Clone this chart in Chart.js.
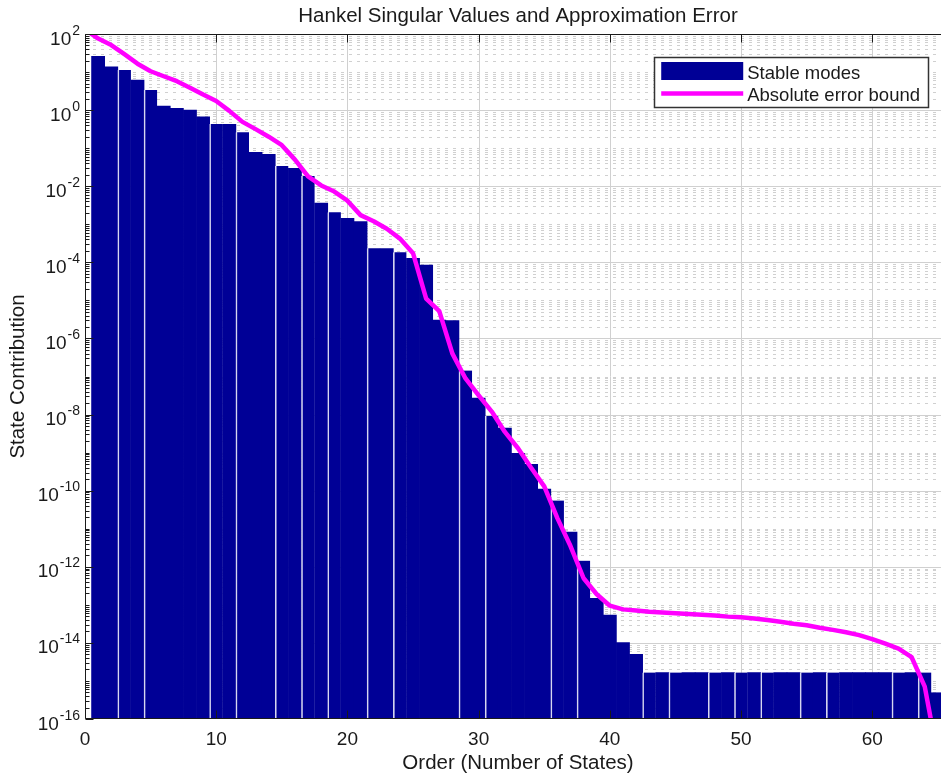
<!DOCTYPE html>
<html>
<head>
<meta charset="utf-8">
<script src="https://cdn.jsdelivr.net/npm/chart.js@4.4.1/dist/chart.umd.min.js"></script>
<style>
  html, body { margin: 0; padding: 0; overflow: hidden; background: #ffffff; }
  canvas { display: block; }
</style>
</head>
<body>
<canvas id="hsv" width="970" height="776"></canvas>
<script>
// Model order of each state (bar positions)
const states = [
  1, 2, 3, 4, 5, 6, 7, 8, 9, 10,
  11, 12, 13, 14, 15, 16, 17, 18, 19, 20,
  21, 22, 23, 24, 25, 26, 27, 28, 29, 30,
  31, 32, 33, 34, 35, 36, 37, 38, 39, 40,
  41, 42, 43, 44, 45, 46, 47, 48, 49, 50,
  51, 52, 53, 54, 55, 56, 57, 58, 59, 60,
  61, 62, 63, 64, 65
];

// Hankel singular value of each stable mode
const hankelSV = [
  26, 13.8, 11.3, 6.2, 3.4, 1.28, 1.11, 1.0, 0.67, 0.43,
  0.42, 0.26, 0.078, 0.069, 0.034, 0.0296, 0.0186, 3.6e-3, 2.06e-3, 1.44e-3,
  1.17e-3, 2.34e-4, 2.3e-4, 1.84e-4, 1.28e-4, 8.5e-5, 3.06e-6, 2.95e-6, 1.43e-7, 2.7e-8,
  9.2e-9, 4.4e-9, 9.6e-10, 4.9e-10, 1.1e-10, 5.5e-11, 8.1e-12, 1.45e-12, 1.49e-13, 5.4e-14,
  1.02e-14, 5.0e-15, 1.66e-15, 1.66e-15, 1.66e-15, 1.66e-15, 1.66e-15, 1.66e-15, 1.66e-15, 1.66e-15,
  1.66e-15, 1.66e-15, 1.66e-15, 1.66e-15, 1.66e-15, 1.66e-15, 1.66e-15, 1.66e-15, 1.66e-15, 1.66e-15,
  1.66e-15, 1.66e-15, 1.66e-15, 1.66e-15, 4.9e-16
];

// Reduced order at which the error bound is evaluated
const boundOrders = [
  0, 1, 2, 3, 4, 5, 6, 7, 8, 9,
  10, 11, 12, 13, 14, 15, 16, 17, 18, 19,
  20, 21, 22, 23, 24, 25, 26, 27, 28, 29,
  30, 31, 32, 33, 34, 35, 36, 37, 38, 39,
  40, 41, 42, 43, 44, 45, 46, 47, 48, 49,
  50, 51, 52, 53, 54, 55, 56, 57, 58, 59,
  60, 61, 62, 63, 64, 65
];

// Absolute approximation error bound at each reduced order
const errorBound = [
  132, 76, 51.3, 29.5, 16.6, 10.5, 7.76, 5.75, 3.89, 2.57,
  1.74, 0.955, 0.49, 0.316, 0.20, 0.12, 0.050, 0.0182, 0.0105, 7.24e-3,
  4.17e-3, 1.74e-3, 1.2e-3, 7.6e-4, 4.2e-4, 1.74e-4, 1.12e-5, 5.2e-6, 4.0e-7, 8.9e-8,
  3.2e-8, 1.2e-8, 3.5e-9, 1.3e-9, 4.0e-10, 1.3e-10, 1.9e-11, 3.5e-12, 5.0e-13, 1.9e-13,
  9.5e-14, 7.6e-14, 7.1e-14, 6.6e-14, 6.3e-14, 6.0e-14, 5.75e-14, 5.5e-14, 5.25e-14, 4.9e-14,
  4.7e-14, 4.4e-14, 4.0e-14, 3.6e-14, 3.2e-14, 2.9e-14, 2.5e-14, 2.2e-14, 1.9e-14, 1.6e-14,
  1.26e-14, 9.5e-15, 7.1e-15, 4.2e-15, 7.1e-16, 1e-17
];

// Axis ticks
const xTickValues = [0, 10, 20, 30, 40, 50, 60];
const yTickExponents = [2, 0, -2, -4, -6, -8, -10, -12, -14, -16];

// Bars whose left edge shows a thin light seam in the rendering
const seamBefore = [3, 5, 10, 12, 15, 17, 19, 22, 24, 29, 31, 36, 38, 43, 45, 48, 50, 52, 55, 57, 62, 64];

const FONT = '"Liberation Sans", Arial, Helvetica, sans-serif';
const TEXT = '#1a1a1a';
const BAR_COLOR = '#000096';
const LINE_COLOR = '#ff00ff';
const Y_MIN = 1e-16, Y_MAX = 1e2;

// MATLAB-style box, log grid, ticks, superscript labels and legend
const matlabAxes = {
  id: 'matlabAxes',
  beforeDatasetsDraw(chart) {
    const { ctx, chartArea: a, scales: { x, y } } = chart;
    const eMin = Math.round(Math.log10(Y_MIN)), eMax = Math.round(Math.log10(Y_MAX));
    const majors = new Set(yTickExponents);
    ctx.save();
    ctx.beginPath();
    ctx.rect(a.left, a.top, a.right - a.left, a.bottom - a.top);
    ctx.clip();
    ctx.lineWidth = 1;
    ctx.strokeStyle = '#d0d0d0';
    // dotted minor grid
    ctx.setLineDash([3, 5]);
    for (let e = eMin; e <= eMax; e++) {
      for (let m = 1; m <= 9; m++) {
        const v = m * Math.pow(10, e);
        if (v > Y_MAX * 1.0001) continue;
        if (m === 1 && majors.has(e)) continue;
        const py = Math.round(y.getPixelForValue(v)) + 0.5;
        ctx.beginPath(); ctx.moveTo(a.left, py); ctx.lineTo(a.right, py); ctx.stroke();
      }
    }
    // solid major grid
    ctx.setLineDash([]);
    yTickExponents.forEach(e => {
      const py = Math.round(y.getPixelForValue(Math.pow(10, e))) + 0.5;
      ctx.beginPath(); ctx.moveTo(a.left, py); ctx.lineTo(a.right, py); ctx.stroke();
    });
    xTickValues.forEach(v => {
      const px = Math.round(x.getPixelForValue(v)) + 0.5;
      ctx.beginPath(); ctx.moveTo(px, a.top); ctx.lineTo(px, a.bottom); ctx.stroke();
    });
    ctx.restore();
  },
  afterDatasetsDraw(chart) {
    const { ctx, chartArea: a, scales: { x, y } } = chart;
    const eMin = Math.round(Math.log10(Y_MIN)), eMax = Math.round(Math.log10(Y_MAX));
    const majors = new Set(yTickExponents);
    ctx.save();
    ctx.strokeStyle = TEXT;
    ctx.lineWidth = 1;
    const L = Math.round(a.left) + 0.5, T = Math.round(a.top) + 0.5, B = Math.round(a.bottom) - 0.5;
    // box edges
    ctx.beginPath();
    ctx.moveTo(a.right, T); ctx.lineTo(L, T); ctx.lineTo(L, B); ctx.lineTo(a.right, B);
    ctx.stroke();
    // y ticks (inward)
    for (let e = eMin; e <= eMax; e++) {
      for (let m = 1; m <= 9; m++) {
        const v = m * Math.pow(10, e);
        if (v > Y_MAX * 1.0001) continue;
        const py = Math.round(y.getPixelForValue(v)) + 0.5;
        const len = (m === 1 && majors.has(e)) ? 8 : 4;
        ctx.beginPath(); ctx.moveTo(L, py); ctx.lineTo(L + len, py); ctx.stroke();
      }
    }
    // x ticks on bottom and top edges (inward)
    xTickValues.forEach(v => {
      const px = Math.round(x.getPixelForValue(v)) + 0.5;
      ctx.beginPath();
      ctx.moveTo(px, B); ctx.lineTo(px, B - 8);
      ctx.moveTo(px, T); ctx.lineTo(px, T + 8);
      ctx.stroke();
    });
    // y tick labels: 10 with superscript exponent
    ctx.fillStyle = TEXT;
    ctx.textAlign = 'right';
    ctx.textBaseline = 'alphabetic';
    const labelRight = a.left - 5;
    yTickExponents.forEach(e => {
      const py = y.getPixelForValue(Math.pow(10, e));
      const exp = String(e);
      ctx.font = '14px ' + FONT;
      const ew = ctx.measureText(exp).width;
      ctx.fillText(exp, labelRight, py + 0.5);
      ctx.font = '19px ' + FONT;
      ctx.fillText('10', labelRight - ew - 1, py + 10.5);
    });
    // legend box in the upper right of the axes
    const items = chart.data.datasets.map(ds => ({ label: ds.label, type: ds.type, color: ds.type === 'line' ? ds.borderColor : ds.backgroundColor }));
    ctx.font = '18.5px ' + FONT;
    const textW = Math.max(...items.map(it => ctx.measureText(it.label).width));
    const sampleW = 82, padL = 7, gap = 4, padR = 8, rowH = 22.5;
    const boxW = padL + sampleW + gap + textW + padR;
    const boxH = 50;
    const boxR = a.right - 23, boxT = a.top + 23;
    const boxL = boxR - boxW;
    ctx.fillStyle = '#ffffff';
    ctx.fillRect(boxL, boxT, boxW, boxH);
    ctx.lineWidth = 1.5;
    ctx.strokeStyle = '#333333';
    ctx.strokeRect(Math.round(boxL) + 0.5, Math.round(boxT) + 0.5, Math.round(boxW), boxH);
    items.forEach((it, i) => {
      const cy = boxT + 14 + i * rowH;
      const sx = boxL + padL;
      if (it.type === 'line') {
        ctx.strokeStyle = it.color;
        ctx.lineWidth = 4.5;
        ctx.beginPath(); ctx.moveTo(sx, cy); ctx.lineTo(sx + sampleW, cy); ctx.stroke();
      } else {
        ctx.fillStyle = it.color;
        ctx.fillRect(sx, cy - 9, sampleW, 18);
      }
      ctx.fillStyle = TEXT;
      ctx.textAlign = 'left';
      ctx.textBaseline = 'alphabetic';
      ctx.fillText(it.label, sx + sampleW + gap, cy + 7.5);
    });
    ctx.restore();
  }
};

new Chart(document.getElementById('hsv'), {
  type: 'bar',
  data: {
    datasets: [
      {
        type: 'bar',
        label: 'Stable modes',
        data: states.map((k, i) => ({ x: k, y: hankelSV[i] })),
        backgroundColor: BAR_COLOR,
        borderColor: '#d6d6f0',
        borderWidth: c => seamBefore.includes(states[c.dataIndex]) ? { left: 1.6, top: 0, right: 0, bottom: 0 } : 0,
        borderSkipped: 'start',
        barPercentage: 1,
        categoryPercentage: 1,
        order: 2
      },
      {
        type: 'line',
        label: 'Absolute error bound',
        data: boundOrders.map((k, i) => ({ x: k, y: errorBound[i] })),
        borderColor: LINE_COLOR,
        backgroundColor: LINE_COLOR,
        borderWidth: 4.5,
        borderJoinStyle: 'round',
        borderCapStyle: 'round',
        pointRadius: 0,
        tension: 0,
        fill: false,
        order: 1
      }
    ]
  },
  options: {
    responsive: false,
    animation: false,
    devicePixelRatio: 1,
    layout: { padding: { left: 0, right: 19, top: 0, bottom: 0 } },
    plugins: {
      legend: { display: false },
      tooltip: { enabled: false },
      title: {
        display: true,
        text: 'Hankel Singular Values and Approximation Error',
        fullSize: false,
        color: TEXT,
        font: { family: FONT, size: 20.5, weight: 'normal' },
        padding: { top: 4, bottom: 5.4 }
      }
    },
    scales: {
      x: {
        type: 'linear',
        min: 0,
        max: 66,
        offset: false,
        grid: { display: false, drawTicks: false },
        border: { display: false },
        ticks: { color: TEXT, font: { family: FONT, size: 19 }, padding: 9, maxRotation: 0, autoSkip: false },
        afterBuildTicks: s => { s.ticks = xTickValues.map(v => ({ value: v })); },
        afterFit: s => { s.height = 57; },
        title: {
          display: true,
          text: 'Order (Number of States)',
          color: TEXT,
          font: { family: FONT, size: 20.5 },
          padding: { top: 0, bottom: 0 }
        }
      },
      y: {
        type: 'logarithmic',
        min: Y_MIN,
        max: Y_MAX,
        grid: { display: false },
        border: { display: false },
        ticks: { display: false },
        afterFit: s => { s.width = 85; },
        title: {
          display: true,
          text: 'State Contribution',
          color: TEXT,
          font: { family: FONT, size: 20.5 },
          padding: { top: 6, bottom: 0 }
        }
      }
    }
  },
  plugins: [matlabAxes]
});
</script>
</body>
</html>
